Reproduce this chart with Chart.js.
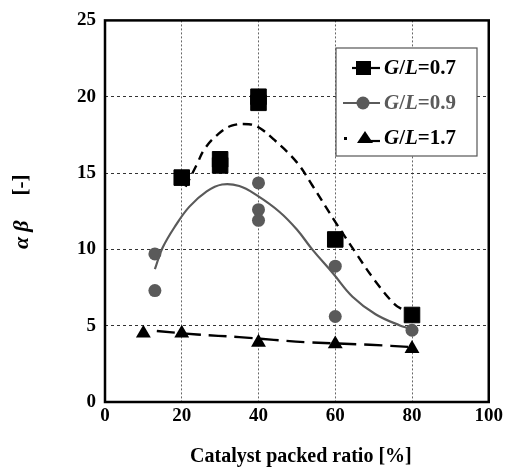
<!DOCTYPE html>
<html>
<head>
<meta charset="utf-8">
<script src="https://cdn.jsdelivr.net/npm/chart.js@4/dist/chart.umd.min.js"></script>
<style>
  html, body { margin: 0; padding: 0; background: #fff; }
  #chart { display: block; }
</style>
</head>
<body>
<canvas id="chart" width="506" height="473"></canvas>
<script>
// measured points
const ratio07 = [20, 30, 30, 40, 40, 60, 80];
const ab07 = [14.7, 15.5, 15.9, 19.6, 20.0, 10.65, 5.7];
const ratio09 = [13, 13, 30, 40, 40, 40, 60, 60, 80];
const ab09 = [9.7, 7.3, 15.5, 14.35, 12.6, 11.9, 8.9, 5.6, 4.7];
const ratio17 = [10, 20, 40, 60, 80];
const ab17 = [4.5, 4.5, 3.9, 3.8, 3.5];

// fitted curves
const fitX07 = [21, 24, 26, 29.5, 33, 37.5, 40, 44, 50, 54, 60, 65, 70.5, 75.5, 78];
const fitY07 = [14.1, 15.6, 16.6, 17.55, 18.1, 18.2, 18.0, 17.2, 15.7, 14.2, 11.8, 9.9, 7.9, 6.4, 6.0];
const fitX09 = [13, 15, 18.5, 22, 26.5, 30.5, 35, 39.5, 45.5, 50, 54, 59.5, 64.5, 70.5, 77, 79];
const fitY09 = [8.7, 10.1, 11.6, 12.8, 13.8, 14.25, 14.15, 13.55, 12.45, 11.3, 10.0, 8.4, 6.9, 5.75, 5.0, 4.85];
const fitX17 = [13.5, 24, 35, 44, 52, 69, 80];
const fitY17 = [4.65, 4.42, 4.25, 4.07, 3.92, 3.75, 3.6];

const legendLabels = ['0.7', '0.9', '1.7'];
const xTitle = 'Catalyst packed ratio [%]';

const GRAY = '#5a5a5a';
const SERIF = '"Liberation Serif", "Times New Roman", serif';

const pts = (xs, ys) => xs.map((x, i) => ({ x: x, y: ys[i] }));

const decorPlugin = {
    id: 'decor',
    afterDraw: (chart) => {
        const ctx = chart.ctx;
        const a = chart.chartArea;
        ctx.save();

        // frame
        ctx.strokeStyle = '#000';
        ctx.lineWidth = 2.5;
        ctx.setLineDash([]);
        ctx.strokeRect(a.left, a.top, a.right - a.left, a.bottom - a.top);

        // legend box
        const bx = 336, by = 48, bw = 141, bh = 108;
        ctx.fillStyle = '#fff';
        ctx.fillRect(bx, by, bw, bh);
        ctx.strokeStyle = '#555';
        ctx.lineWidth = 1.2;
        ctx.strokeRect(bx, by, bw, bh);

        const rows = [68, 103, 138];
        const colors = ['#000', GRAY, '#000'];
        rows.forEach((ry, i) => {
            ctx.strokeStyle = colors[i];
            ctx.fillStyle = colors[i];
            ctx.lineWidth = 2.2;
            ctx.beginPath();
            if (i === 0) {
                ctx.moveTo(352, ry); ctx.lineTo(380, ry); ctx.stroke();
                ctx.fillRect(356, ry - 7, 15, 14);
            } else if (i === 1) {
                ctx.moveTo(343, ry); ctx.lineTo(380, ry); ctx.stroke();
                ctx.beginPath(); ctx.arc(363, ry, 6.5, 0, Math.PI * 2); ctx.fill();
            } else {
                ctx.fillRect(344, ry - 1, 3, 3);
                ctx.moveTo(366, ry + 3); ctx.lineTo(380, ry + 3); ctx.stroke();
                ctx.beginPath();
                ctx.moveTo(365, ry - 7); ctx.lineTo(373, ry + 5); ctx.lineTo(357, ry + 5);
                ctx.closePath(); ctx.fill();
            }
            // label: italic G/L, upright =value
            let tx = 384;
            ctx.textBaseline = 'middle';
            ctx.textAlign = 'left';
            ctx.font = 'italic bold 21px ' + SERIF;
            ctx.fillText('G', tx, ry + 1); tx += ctx.measureText('G').width;
            ctx.font = 'bold 21px ' + SERIF;
            ctx.fillText('/', tx, ry + 1); tx += ctx.measureText('/').width;
            ctx.font = 'italic bold 21px ' + SERIF;
            ctx.fillText('L', tx, ry + 1); tx += ctx.measureText('L').width;
            ctx.font = 'bold 21px ' + SERIF;
            ctx.fillText('=' + legendLabels[i], tx, ry + 1);
        });

        // x title
        ctx.fillStyle = '#000';
        ctx.font = 'bold 20px ' + SERIF;
        ctx.textAlign = 'center';
        ctx.textBaseline = 'middle';
        ctx.fillText(xTitle, (a.left + a.right) / 2 + 4, 457);

        // y title (rotated)
        ctx.translate(22, 0);
        ctx.rotate(-Math.PI / 2);
        ctx.font = 'italic bold 22px ' + SERIF;
        ctx.fillText('α', -243, 0);
        ctx.fillText('β', -226, 0);
        ctx.font = 'bold 21px ' + SERIF;
        ctx.fillText('[-]', -185, 0);

        ctx.restore();
    }
};

new Chart(document.getElementById('chart'), {
    type: 'scatter',
    data: {
        datasets: [
            {
                label: 'fit 0.7',
                data: pts(fitX07, fitY07),
                showLine: true,
                borderColor: '#000',
                borderWidth: 2.4,
                borderDash: [9, 6],
                pointRadius: 0,
                tension: 0.4
            },
            {
                label: 'fit 0.9',
                data: pts(fitX09, fitY09),
                showLine: true,
                borderColor: GRAY,
                borderWidth: 2.2,
                pointRadius: 0,
                tension: 0.4
            },
            {
                label: 'fit 1.7',
                data: pts(fitX17, fitY17),
                showLine: true,
                borderColor: '#000',
                borderWidth: 2.4,
                borderDash: [18, 8],
                pointRadius: 0,
                tension: 0.4
            },
            {
                label: 'G/L=0.7',
                data: pts(ratio07, ab07),
                pointStyle: 'rect',
                pointRadius: 11,
                backgroundColor: '#000',
                borderColor: '#000',
                borderWidth: 1
            },
            {
                label: 'G/L=0.9',
                data: pts(ratio09, ab09),
                pointStyle: 'circle',
                pointRadius: 6.5,
                backgroundColor: GRAY,
                borderColor: GRAY,
                borderWidth: 0
            },
            {
                label: 'G/L=1.7',
                data: pts(ratio17, ab17),
                pointStyle: 'triangle',
                pointRadius: 8.6,
                backgroundColor: '#000',
                borderColor: '#000',
                borderWidth: 0
            }
        ]
    },
    options: {
        responsive: false,
        animation: false,
        layout: { padding: { left: 0, top: 17, right: 16, bottom: 0 } },
        plugins: {
            legend: { display: false },
            tooltip: { enabled: false }
        },
        scales: {
            x: {
                type: 'linear',
                min: 0,
                max: 100,
                ticks: {
                    stepSize: 20,
                    color: '#000',
                    padding: 3,
                    font: { family: SERIF, size: 19, weight: 'bold' }
                },
                grid: {
                    color: '#666',
                    lineWidth: 1,
                    drawTicks: false
                },
                border: { display: false, dash: [2, 2] },
                afterFit: (scale) => { scale.height = 71; }
            },
            y: {
                min: 0,
                max: 25,
                ticks: {
                    stepSize: 5,
                    color: '#000',
                    padding: 9,
                    font: { family: SERIF, size: 19, weight: 'bold' }
                },
                grid: {
                    color: '#333',
                    lineWidth: 1,
                    drawTicks: false
                },
                border: { display: false, dash: [3, 3] },
                afterFit: (scale) => { scale.width = 105; }
            }
        }
    },
    plugins: [decorPlugin]
});
</script>
</body>
</html>
